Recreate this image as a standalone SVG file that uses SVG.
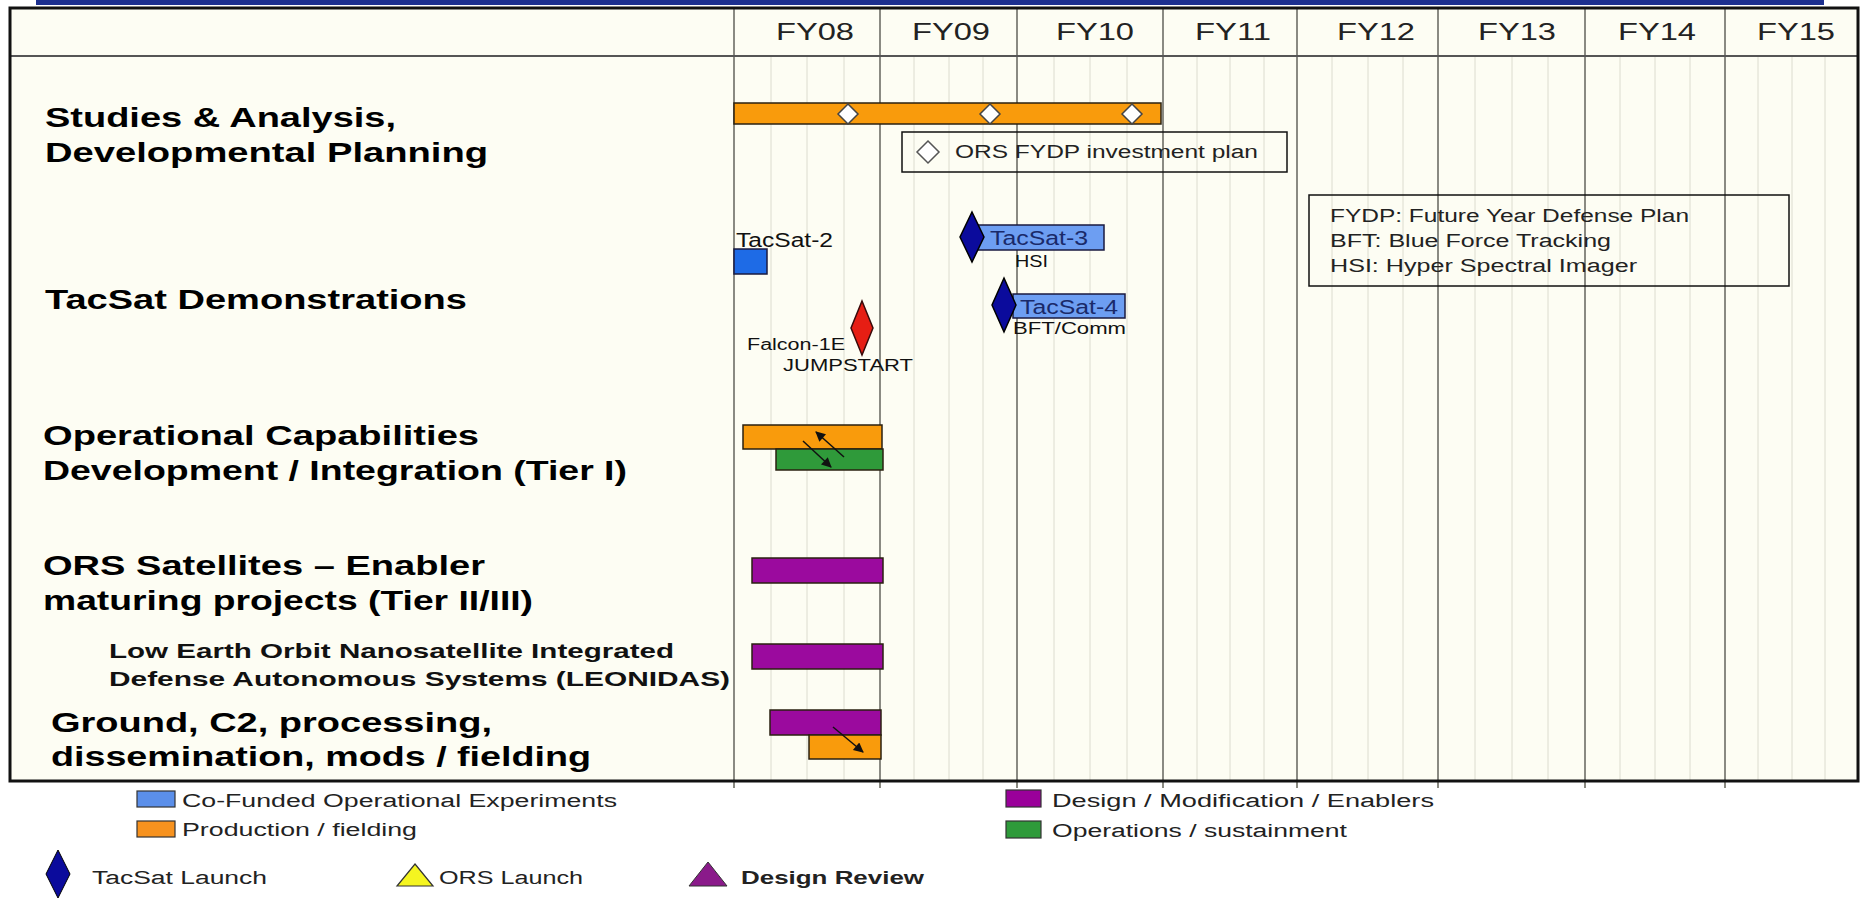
<svg xmlns="http://www.w3.org/2000/svg" width="1866" height="898" viewBox="0 0 1866 898">
<style>
text{font-family:"Liberation Sans",Arial,sans-serif}
.h{font-weight:bold;font-size:28px;fill:#000}
.hs{font-weight:bold;font-size:21px;fill:#111}
.fy{font-size:24px;fill:#222}
.t{font-size:20px;fill:#111}
.ts{font-size:16px;fill:#111}
.lg{font-size:18px;fill:#222}
.qt{stroke:#dcdccf;stroke-width:1}
.yr{stroke:#8a8a82;stroke-width:2}
.bar{stroke:#2a2010;stroke-width:1.5}
.or{fill:#f99b0c}
.gr{fill:#2f9a3a}
.pu{fill:#9b0a9e}
.box{fill:none;stroke:#111;stroke-width:1.5}
.dm{fill:#fff;stroke:#444;stroke-width:1.5}
.arr{stroke:#111;stroke-width:1.5;fill:none;marker-end:url(#ah)}
</style>
<defs>
<marker id="ah" viewBox="0 0 10 10" refX="9" refY="5" markerWidth="12" markerHeight="10" orient="auto" markerUnits="userSpaceOnUse">
<path d="M0,0 L10,5 L0,10 z" fill="#111"/>
</marker>
</defs>
<rect width="1866" height="898" fill="#fff"/>
<rect x="36" y="0" width="1788" height="5" fill="#1c2f8f"/>
<g id="frame">
<rect x="10" y="8" width="1848" height="773" fill="#fdfdf3"/>
<g id="quarters">
<line class="qt" x1="771" y1="57" x2="771" y2="781"/><line class="qt" x1="807" y1="57" x2="807" y2="781"/><line class="qt" x1="844" y1="57" x2="844" y2="781"/>
<line class="qt" x1="914" y1="57" x2="914" y2="781"/><line class="qt" x1="949" y1="57" x2="949" y2="781"/><line class="qt" x1="983" y1="57" x2="983" y2="781"/>
<line class="qt" x1="1054" y1="57" x2="1054" y2="781"/><line class="qt" x1="1090" y1="57" x2="1090" y2="781"/><line class="qt" x1="1127" y1="57" x2="1127" y2="781"/>
<line class="qt" x1="1197" y1="57" x2="1197" y2="781"/><line class="qt" x1="1230" y1="57" x2="1230" y2="781"/><line class="qt" x1="1264" y1="57" x2="1264" y2="781"/>
<line class="qt" x1="1332" y1="57" x2="1332" y2="781"/><line class="qt" x1="1368" y1="57" x2="1368" y2="781"/><line class="qt" x1="1403" y1="57" x2="1403" y2="781"/>
<line class="qt" x1="1475" y1="57" x2="1475" y2="781"/><line class="qt" x1="1512" y1="57" x2="1512" y2="781"/><line class="qt" x1="1548" y1="57" x2="1548" y2="781"/>
<line class="qt" x1="1620" y1="57" x2="1620" y2="781"/><line class="qt" x1="1655" y1="57" x2="1655" y2="781"/><line class="qt" x1="1690" y1="57" x2="1690" y2="781"/>
<line class="qt" x1="1758" y1="57" x2="1758" y2="781"/><line class="qt" x1="1792" y1="57" x2="1792" y2="781"/><line class="qt" x1="1825" y1="57" x2="1825" y2="781"/>
</g>
<g id="years">
<line class="yr" x1="734" y1="8" x2="734" y2="788"/><line class="yr" x1="880" y1="8" x2="880" y2="788"/><line class="yr" x1="1017" y1="8" x2="1017" y2="788"/><line class="yr" x1="1163" y1="8" x2="1163" y2="788"/><line class="yr" x1="1297" y1="8" x2="1297" y2="788"/><line class="yr" x1="1438" y1="8" x2="1438" y2="788"/><line class="yr" x1="1585" y1="8" x2="1585" y2="788"/><line class="yr" x1="1725" y1="8" x2="1725" y2="788"/>
</g>
<line x1="10" y1="56" x2="1858" y2="56" stroke="#555" stroke-width="2"/>
<rect x="10" y="8" width="1848" height="773" fill="none" stroke="#111" stroke-width="3"/>
<g id="fy-labels">
<text class="fy" x="815" y="40" text-anchor="middle" textLength="78" lengthAdjust="spacingAndGlyphs">FY08</text>
<text class="fy" x="951" y="40" text-anchor="middle" textLength="78" lengthAdjust="spacingAndGlyphs">FY09</text>
<text class="fy" x="1095" y="40" text-anchor="middle" textLength="78" lengthAdjust="spacingAndGlyphs">FY10</text>
<text class="fy" x="1233" y="40" text-anchor="middle" textLength="76" lengthAdjust="spacingAndGlyphs">FY11</text>
<text class="fy" x="1376" y="40" text-anchor="middle" textLength="78" lengthAdjust="spacingAndGlyphs">FY12</text>
<text class="fy" x="1517" y="40" text-anchor="middle" textLength="78" lengthAdjust="spacingAndGlyphs">FY13</text>
<text class="fy" x="1657" y="40" text-anchor="middle" textLength="78" lengthAdjust="spacingAndGlyphs">FY14</text>
<text class="fy" x="1796" y="40" text-anchor="middle" textLength="78" lengthAdjust="spacingAndGlyphs">FY15</text>
</g>
</g>
<g id="row-studies">
<text class="h" x="45" y="127" textLength="351" lengthAdjust="spacingAndGlyphs">Studies &amp; Analysis,</text>
<text class="h" x="45" y="162" textLength="443" lengthAdjust="spacingAndGlyphs">Developmental Planning</text>
<rect class="bar or" x="734" y="103" width="427" height="21"/>
<polygon class="dm" points="848,104 858,114 848,124 838,114"/>
<polygon class="dm" points="990,104 1000,114 990,124 980,114"/>
<polygon class="dm" points="1132,104 1142,114 1132,124 1122,114"/>
</g>
<g id="note-fydp">
<rect class="box" x="902" y="132" width="385" height="40"/>
<polygon points="928,141 939,152 928,163 917,152" fill="#fff" stroke="#555" stroke-width="1.5"/>
<text class="lg" x="955" y="158" textLength="303" lengthAdjust="spacingAndGlyphs">ORS FYDP investment plan</text>
</g>
<g id="note-acronyms">
<rect class="box" x="1309" y="195" width="480" height="91"/>
<text class="lg" x="1330" y="222" textLength="359" lengthAdjust="spacingAndGlyphs">FYDP: Future Year Defense Plan</text>
<text class="lg" x="1330" y="247" textLength="281" lengthAdjust="spacingAndGlyphs">BFT:  Blue Force Tracking</text>
<text class="lg" x="1330" y="272" textLength="307" lengthAdjust="spacingAndGlyphs">HSI:  Hyper Spectral Imager</text>
</g>
<g id="row-tacsat">
<text class="h" x="45" y="309" textLength="422" lengthAdjust="spacingAndGlyphs">TacSat Demonstrations</text>
<g id="tacsat2">
<text class="t" x="736" y="247" textLength="97" lengthAdjust="spacingAndGlyphs">TacSat-2</text>
<rect x="734" y="249" width="33" height="25" fill="#1e6be6" stroke="#1a1a40" stroke-width="1.5"/>
</g>
<g id="tacsat3">
<rect x="977" y="225" width="127" height="25" fill="#6d9ef2" stroke="#1a1a40" stroke-width="1.5"/>
<polygon points="972,212 984,237 972,262 960,237" fill="#0b0b9c" stroke="#000" stroke-width="1.5"/>
<text class="t" x="990" y="245" textLength="98" lengthAdjust="spacingAndGlyphs" style="fill:#1a2a6a">TacSat-3</text>
<text class="ts" x="1015" y="267" textLength="33" lengthAdjust="spacingAndGlyphs">HSI</text>
</g>
<g id="tacsat4">
<rect x="1013" y="294" width="112" height="24" fill="#6d9ef2" stroke="#1a1a40" stroke-width="1.5"/>
<polygon points="1004,278 1016,305 1004,332 992,305" fill="#0b0b9c" stroke="#000" stroke-width="1.5"/>
<text class="t" x="1020" y="314" textLength="98" lengthAdjust="spacingAndGlyphs" style="fill:#1a2a6a">TacSat-4</text>
<text class="ts" x="1013" y="334" textLength="113" lengthAdjust="spacingAndGlyphs">BFT/Comm</text>
</g>
<g id="falcon">
<polygon points="862,301 873,328 862,355 851,328" fill="#e61e14" stroke="#3a0a0a" stroke-width="1.5"/>
<text class="ts" x="747" y="350" textLength="98" lengthAdjust="spacingAndGlyphs">Falcon-1E</text>
<text class="ts" x="783" y="371" textLength="130" lengthAdjust="spacingAndGlyphs">JUMPSTART</text>
</g>
</g>
<g id="row-opcap">
<text class="h" x="43" y="445" textLength="436" lengthAdjust="spacingAndGlyphs">Operational Capabilities</text>
<text class="h" x="43" y="480" textLength="584" lengthAdjust="spacingAndGlyphs">Development / Integration (Tier I)</text>
<rect class="bar or" x="743" y="425" width="139" height="24"/>
<rect class="bar gr" x="776" y="449" width="107" height="21"/>
</g>
<g id="row-ors">
<text class="h" x="43" y="575" textLength="442" lengthAdjust="spacingAndGlyphs">ORS Satellites – Enabler</text>
<text class="h" x="43" y="610" textLength="490" lengthAdjust="spacingAndGlyphs">maturing projects (Tier II/III)</text>
<rect class="bar pu" x="752" y="558" width="131" height="25"/>
</g>
<g id="row-leonidas">
<text class="hs" x="109" y="658" textLength="565" lengthAdjust="spacingAndGlyphs">Low Earth Orbit Nanosatellite Integrated</text>
<text class="hs" x="109" y="686" textLength="621" lengthAdjust="spacingAndGlyphs">Defense Autonomous Systems (LEONIDAS)</text>
<rect class="bar pu" x="752" y="644" width="131" height="25"/>
</g>
<g id="row-ground">
<text class="h" x="51" y="732" textLength="441" lengthAdjust="spacingAndGlyphs">Ground, C2, processing,</text>
<text class="h" x="51" y="766" textLength="540" lengthAdjust="spacingAndGlyphs">dissemination, mods / fielding</text>
<rect class="bar pu" x="770" y="710" width="111" height="25"/>
<rect class="bar or" x="809" y="735" width="72" height="24"/>
</g>
<g id="connectors">
<line class="arr" x1="844" y1="457" x2="816" y2="432"/>
<line class="arr" x1="803" y1="441" x2="831" y2="467"/>
<line class="arr" x1="833" y1="727" x2="863" y2="752"/>
</g>
<g id="legend">
<rect x="137" y="791" width="38" height="16" fill="#5b8fea" stroke="#333" stroke-width="1.2"/>
<text class="lg" x="182" y="807" textLength="435" lengthAdjust="spacingAndGlyphs">Co-Funded Operational Experiments</text>
<rect x="137" y="821" width="38" height="16" fill="#f7921e" stroke="#333" stroke-width="1.2"/>
<text class="lg" x="182" y="836" textLength="235" lengthAdjust="spacingAndGlyphs">Production / fielding</text>
<rect x="1006" y="790" width="35" height="17" fill="#9a009a" stroke="#333" stroke-width="1.2"/>
<text class="lg" x="1052" y="807" textLength="382" lengthAdjust="spacingAndGlyphs">Design / Modification / Enablers</text>
<rect x="1006" y="821" width="35" height="17" fill="#2e9a3a" stroke="#333" stroke-width="1.2"/>
<text class="lg" x="1052" y="837" textLength="295" lengthAdjust="spacingAndGlyphs">Operations / sustainment</text>
<polygon points="58,850 70,874 58,898 46,874" fill="#0b0b9c" stroke="#000" stroke-width="1"/>
<text class="lg" x="92" y="884" textLength="175" lengthAdjust="spacingAndGlyphs">TacSat Launch</text>
<polygon points="415,864 433,886 397,886" fill="#f5f520" stroke="#333" stroke-width="1.2"/>
<text class="lg" x="439" y="884" textLength="144" lengthAdjust="spacingAndGlyphs">ORS Launch</text>
<polygon points="708,862 727,886 689,886" fill="#8a1a8a" stroke="#333" stroke-width="1"/>
<text class="lg" x="741" y="884" textLength="183" lengthAdjust="spacingAndGlyphs" style="font-weight:bold">Design Review</text>
</g>
</svg>
